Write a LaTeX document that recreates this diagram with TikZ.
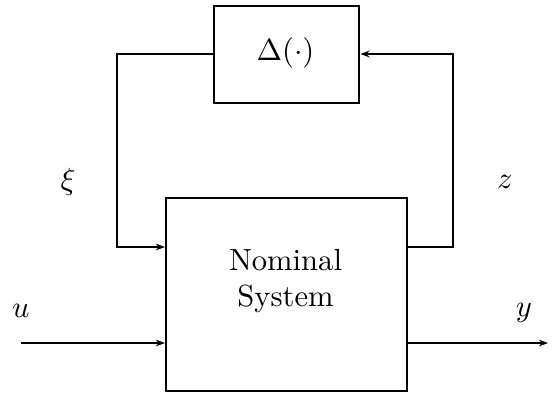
\documentclass[tikz,border=0pt]{standalone}
\usetikzlibrary{arrows.meta}
\begin{document}
\begin{tikzpicture}[x=0.327pt,y=-0.327pt,
  blk/.style={draw,line width=0.8pt,inner sep=0pt},
  wire/.style={line width=0.8pt},
  arr/.style={wire,-{Stealth[length=3pt,width=2.2pt]}},
  lbl/.style={inner sep=0pt}]
\useasboundingbox (0,0) rectangle (553,396);
\node[blk,anchor=north west,minimum width=47.4pt,minimum height=31.7pt] (delta) at (213,5) {};
\node[lbl] (dtext) at (285.5,53) {$\Delta(\cdot)$};
\node[blk,anchor=north west,minimum width=78.8pt,minimum height=63.1pt] (nom) at (165,197) {};
\node[lbl,align=center] (ntext) at (285.5,281) {Nominal\\System};
\coordinate (tl) at (117,54);
\coordinate (bl) at (117,247);
\coordinate (tr) at (453,54);
\coordinate (br) at (453,247);
\coordinate (uin) at (21,343);
\coordinate (yout) at (548,343);
\draw[arr] (delta.west |- tl) -- (tl) -- (bl) -- (nom.west |- bl);
\draw[arr] (nom.east |- br) -- (br) -- (tr) -- (delta.east |- tr);
\draw[arr] (uin) -- (nom.west |- uin);
\draw[arr] (nom.east |- yout) -- (yout);
\node[lbl] (xi) at (68,182) {$\xi$};
\node[lbl] (z) at (505,182) {$z$};
\node[lbl] (u) at (21,311) {$u$};
\node[lbl] (y) at (524,313) {$y$};
\end{tikzpicture}
\end{document}
